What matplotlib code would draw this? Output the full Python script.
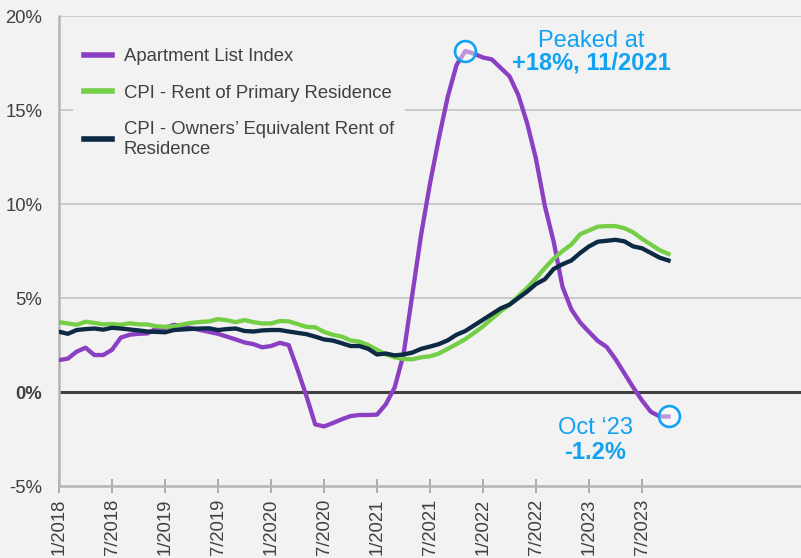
"""Apartment List index vs CPI rent measures, year-over-year growth."""
import matplotlib
matplotlib.use("Agg")
import matplotlib.pyplot as plt

plt.rcParams["font.family"] = ["Liberation Sans", "DejaVu Sans"]

# monthly, Jan 2018 .. Oct 2023 (year-over-year %)
apartment_list = [
    1.70, 1.78, 2.15, 2.36, 1.97, 1.97, 2.25, 2.90, 3.05, 3.10,
    3.12, 3.37, 3.42, 3.58, 3.50, 3.40, 3.30, 3.20, 3.10, 2.95,
    2.80, 2.64, 2.55, 2.38, 2.45, 2.62, 2.50, 1.20, -0.20, -1.72,
    -1.83, -1.65, -1.45, -1.28, -1.22, -1.22, -1.20, -0.65, 0.25, 2.00,
    5.20, 8.40, 11.10, 13.50, 15.70, 17.40, 18.15, 18.00, 17.80, 17.70,
    17.25, 16.80, 15.80, 14.30, 12.40, 9.90, 8.00, 5.60, 4.40, 3.70,
    3.20, 2.72, 2.40, 1.75, 1.00, 0.25, -0.45, -1.05, -1.30, -1.30,
]
cpi_rent = [
    3.72, 3.65, 3.58, 3.74, 3.68, 3.60, 3.62, 3.58, 3.66, 3.60,
    3.60, 3.50, 3.47, 3.50, 3.60, 3.68, 3.73, 3.76, 3.88, 3.82,
    3.72, 3.83, 3.72, 3.65, 3.65, 3.78, 3.76, 3.62, 3.47, 3.45,
    3.20, 3.05, 2.95, 2.75, 2.68, 2.50, 2.25, 2.00, 1.85, 1.76,
    1.74, 1.85, 1.90, 2.05, 2.30, 2.55, 2.82, 3.15, 3.50, 3.90,
    4.30, 4.65, 5.10, 5.55, 6.05, 6.60, 7.10, 7.50, 7.85, 8.40,
    8.60, 8.80, 8.83, 8.83, 8.72, 8.50, 8.15, 7.85, 7.55, 7.35,
]
cpi_oer = [
    3.21, 3.10, 3.30, 3.35, 3.38, 3.32, 3.42, 3.38, 3.33, 3.28,
    3.22, 3.20, 3.18, 3.30, 3.33, 3.36, 3.38, 3.39, 3.30, 3.35,
    3.38, 3.25, 3.22, 3.28, 3.30, 3.30, 3.22, 3.15, 3.08, 2.95,
    2.80, 2.74, 2.60, 2.45, 2.45, 2.30, 2.00, 2.05, 1.95, 2.00,
    2.10, 2.30, 2.42, 2.55, 2.75, 3.05, 3.25, 3.55, 3.85, 4.15,
    4.45, 4.65, 5.00, 5.35, 5.75, 6.00, 6.55, 6.80, 7.00, 7.40,
    7.75, 8.00, 8.05, 8.10, 8.02, 7.75, 7.65, 7.40, 7.15, 7.00,
]
tick_labels = ["1/2018", "7/2018", "1/2019", "7/2019", "1/2020", "7/2020",
               "1/2021", "7/2021", "1/2022", "7/2022", "1/2023", "7/2023"]
y_ticks = [-5, 0, 5, 10, 15, 20]

PURPLE = "#8b3fc2"
GREEN = "#74cf47"
NAVY = "#0c2a44"
BLUE = "#12a2f2"
TEXT = "#404040"
BG = "#f2f2f2"

months = list(range(len(apartment_list)))

fig = plt.figure(figsize=(8.01, 5.58), dpi=100, facecolor=BG)
ax = fig.add_axes([0.0737, 0.129, 0.9263, 0.842], facecolor=BG)

ax.plot(months, apartment_list, color=PURPLE, lw=3.1, label="Apartment List Index", zorder=3)
ax.plot(months, cpi_rent, color=GREEN, lw=3.1, label="CPI - Rent of Primary Residence", zorder=3)
ax.plot(months, cpi_oer, color=NAVY, lw=3.1,
        label="CPI - Owners\u2019 Equivalent Rent of\nResidence", zorder=3)

ax.axhline(0, color="#404040", lw=2.2, zorder=2)

# circled points: the peak and the latest reading
peak = max(months, key=lambda i: apartment_list[i])
last = months[-1]
for i in (peak, last):
    ax.plot(i, apartment_list[i], "o", ms=15, mfc=(1, 1, 1, 0.45), mec=BLUE, mew=1.9, zorder=4)

ax.annotate("Peaked at", (peak, apartment_list[peak]), xytext=(126, 10),
            textcoords="offset pixels", ha="center", va="center", fontsize=17, color=BLUE)
ax.annotate(f"+{round(apartment_list[peak])}%, 11/2021", (peak, apartment_list[peak]),
            xytext=(126, -12), textcoords="offset pixels", ha="center", va="center",
            fontsize=17, color=BLUE, fontweight="bold")
ax.annotate("Oct \u201823", (last, apartment_list[last]), xytext=(-73, -12),
            textcoords="offset pixels", ha="center", va="center", fontsize=17, color=BLUE)
ax.annotate("-1.2%", (last, apartment_list[last]), xytext=(-73, -36),
            textcoords="offset pixels", ha="center", va="center", fontsize=17, color=BLUE,
            fontweight="bold")

ax.set_xlim(0, 84)
ax.set_ylim(-5, 20)
ax.set_xticks(range(0, 6 * len(tick_labels), 6))
ax.set_xticklabels(tick_labels, rotation=90, fontsize=13.3, color=TEXT, va="top")
ax.set_yticks(y_ticks)
ax.set_yticklabels([f"{v}%" for v in y_ticks], fontsize=13.3, color=TEXT)
ax.get_yticklabels()[1].set_fontweight("bold")

ax.tick_params(axis="y", length=0, pad=12)
ax.tick_params(axis="x", direction="inout", length=10, width=1.3, color="#a6a6a6", pad=4)

for y in y_ticks[2:]:
    ax.axhline(y, color="#c6c6c6", lw=1.3, zorder=1)

for side in ("top", "right"):
    ax.spines[side].set_visible(False)
for side in ("left", "bottom"):
    ax.spines[side].set_color("#b4b4b4")
    ax.spines[side].set_linewidth(1.8)

leg = ax.legend(loc="upper left", bbox_to_anchor=(0.006, 0.975), fontsize=13.3,
                frameon=True, facecolor=BG, edgecolor=BG, framealpha=1,
                handlelength=1.55, handletextpad=0.6, labelspacing=1.05,
                borderpad=0.6)
leg.get_frame().set_linewidth(0)
for line in leg.get_lines():
    line.set_linewidth(4)
for t in leg.get_texts():
    t.set_color(TEXT)
    t.set_linespacing(1.2)
leg.set_zorder(5)

fig.savefig("out.png", dpi=100, facecolor=BG)
